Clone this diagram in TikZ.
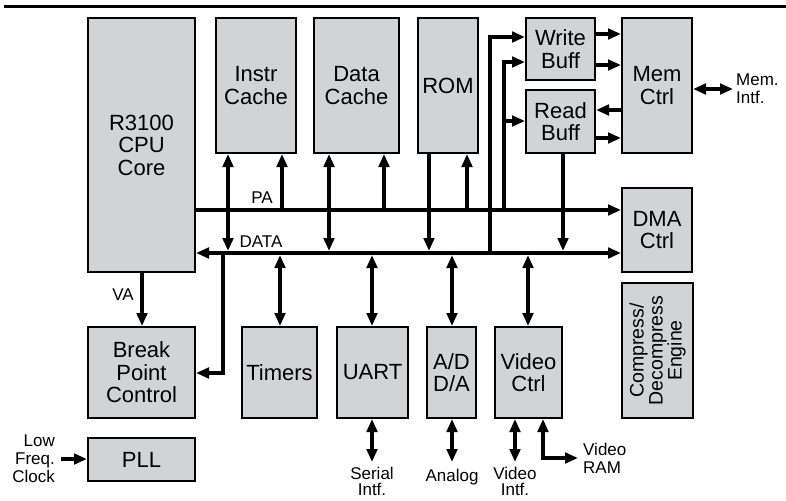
\documentclass[tikz,border=0pt]{standalone}
\usepackage{fontspec}
\setmainfont{Liberation Sans}
\usetikzlibrary{arrows.meta}
\definecolor{boxgray}{RGB}{210,211,213}
\begin{document}
\begin{tikzpicture}[x=1pt,y=-1pt,
  box/.style={draw, fill=boxgray, line width=2pt, inner sep=0pt, align=center,
    font=\fontsize{22}{22.5}\selectfont},
  lbl/.style={inner sep=0pt, align=center, font=\fontsize{17}{18}\selectfont},
  tightlbl/.style={lbl, font=\fontsize{17}{16}\selectfont},
  wire/.style={line width=3.8pt},
  arr/.style={wire, -{Triangle[length=13pt,width=10.5pt]}},
  darr/.style={wire, {Triangle[length=13pt,width=10.5pt]}-{Triangle[length=13pt,width=10.5pt]}},
]
\useasboundingbox (0,0) rectangle (786,500);
% top rule
\coordinate (ruleL) at (4,6.7);
\coordinate (ruleR) at (786,6.7);
\draw[line width=3.3pt] (ruleL) -- (ruleR);

% boxes
\node[box, minimum width=107pt, minimum height=254pt] (cpu) at (141.5,145) {R3100\\CPU\\Core};
\node[box, minimum width=80pt, minimum height=135pt] (ic) at (256,85.5) {Instr\\Cache};
\node[box, minimum width=85pt, minimum height=135pt] (dc) at (356.5,85.5) {Data\\Cache};
\node[box, minimum width=60pt, minimum height=135pt] (rom) at (448,85.5) {ROM};
\node[box, minimum width=69pt, minimum height=62pt] (wb) at (560.5,49) {Write\\Buff};
\node[box, minimum width=69pt, minimum height=63pt] (rb) at (560.5,121.5) {Read\\Buff};
\node[box, minimum width=70pt, minimum height=135pt] (mem) at (657,85.5) {Mem\\Ctrl};
\node[box, minimum width=70pt, minimum height=84pt] (dma) at (657,230) {DMA\\Ctrl};
\node[box, minimum width=135pt, minimum height=71pt, rotate=90,
  font=\fontsize{19.5}{19}\selectfont] (cde) at (657.5,350.5) {Compress/\\Decompress\\Engine};
\node[box, minimum width=107pt, minimum height=91pt] (bpc) at (141.5,372.5) {Break\\Point\\Control};
\node[box, minimum width=75pt, minimum height=91pt] (tim) at (279.5,372.5) {Timers};
\node[box, minimum width=71pt, minimum height=91pt] (uart) at (372.5,372.5) {UART};
\node[box, minimum width=49pt, minimum height=91pt] (adc) at (451.5,372.5) {A/D\\D/A};
\node[box, minimum width=67pt, minimum height=91pt] (vc) at (528.5,372.5) {Video\\Ctrl};
\node[box, minimum width=107pt, minimum height=43pt] (pll) at (141.5,459.5) {PLL};

% labels
\node[lbl] (palbl) at (262,198) {PA};
\node[lbl] (datalbl) at (261,242) {DATA};
\node[lbl] (valbl) at (123,295) {VA};
\node[lbl, anchor=west, align=left] (memif) at (736,89) {Mem.\\Intf.};
\node[lbl, anchor=east, align=right] (clk) at (55,459) {Low\\Freq.\\Clock};
\node[tightlbl] (serial) at (372,481) {Serial\\Intf.};
\node[lbl] (analog) at (452,477) {Analog};
\node[tightlbl] (vidif) at (515,481) {Video\\Intf.};
\node[lbl, anchor=west, align=left] (vram) at (583,458) {Video\\RAM};

% free ends of connectors
\coordinate (memifEnd) at (733,89);
\coordinate (clkStart) at (61,459);
\coordinate (vramEnd) at (578,458);

% buses
\draw[arr] (cpu.east |- 0,210) -- (dma.west |- 0,210);
\draw[darr] (cpu.east |- 0,253) -- (dma.west |- 0,253);

% VA
\draw[arr] (cpu.south -| 142,0) -- (bpc.north -| 142,0);

% caches and ROM
\draw[darr] (ic.south -| 228,0) -- (228,251);
\draw[arr] (282,210) -- (ic.south -| 282,0);
\draw[darr] (dc.south -| 329,0) -- (329,251);
\draw[arr] (384,210) -- (dc.south -| 384,0);
\draw[arr] (rom.south -| 429,0) -- (429,251);
\draw[arr] (467,210) -- (rom.south -| 467,0);

% write / read buffers
\draw[arr] (490,253) -- (490,37) -- (wb.west |- 0,37);
\draw[arr] (504,210) -- (504,62) -- (wb.west |- 0,62);
\draw[arr] (504,121) -- (rb.west |- 0,121);
\draw[arr] (rb.south -| 563,0) -- (563,251);
\draw[arr] (wb.east |- 0,34) -- (mem.west |- 0,34);
\draw[arr] (wb.east |- 0,65) -- (mem.west |- 0,65);
\draw[arr] (mem.west |- 0,110) -- (rb.east |- 0,110);
\draw[arr] (rb.east |- 0,138) -- (mem.west |- 0,138);
\draw[darr] (mem.east |- 0,89) -- (memifEnd);

% break point
\draw[arr] (223,253) -- (223,373) -- (bpc.east |- 0,373);

% peripherals
\draw[darr] (280,255) -- (tim.north -| 280,0);
\draw[darr] (372,255) -- (uart.north -| 372,0);
\draw[darr] (452,255) -- (adc.north -| 452,0);
\draw[darr] (528,255) -- (vc.north -| 528,0);

\draw[darr] (uart.south -| 372,0) -- (372,462);
\draw[darr] (adc.south -| 452,0) -- (452,462);
\draw[darr] (vc.south -| 515,0) -- (515,462);
\draw[darr] (vc.south -| 543,0) -- (543,458) -- (vramEnd);

% PLL
\draw[arr] (clkStart) -- (pll.west |- 0,459);
\end{tikzpicture}
\end{document}
